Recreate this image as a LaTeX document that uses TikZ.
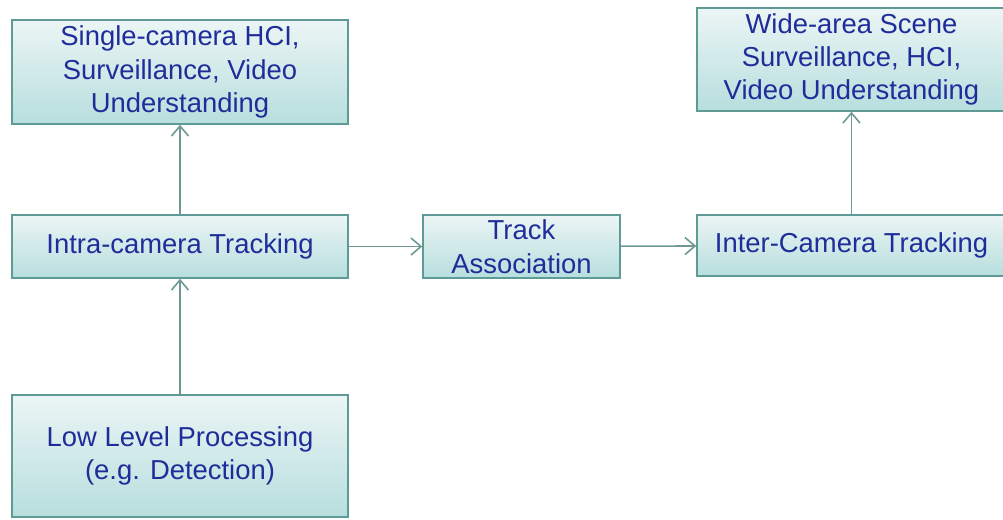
\documentclass[tikz,border=0pt]{standalone}
\usepackage{fontspec}
\setmainfont{Liberation Sans}
\usetikzlibrary{arrows.meta}
\definecolor{boxline}{RGB}{94,154,150}
\definecolor{boxtop}{RGB}{236,245,245}
\definecolor{boxbot}{RGB}{183,222,222}
\definecolor{boxtext}{RGB}{31,45,154}
\definecolor{flowline}{RGB}{110,152,147}
\tikzset{
    stage/.style={draw=boxline, line width=0.9pt, top color=boxtop, bottom color=boxbot,
        text=boxtext, align=center, font=\fontsize{15.6}{19}\selectfont, inner sep=0pt},
    flow/.style={draw=flowline, line width=0.9pt, -{Straight Barb[length=2mm, width=3.4mm]}}
}
\begin{document}
\begin{tikzpicture}
    \useasboundingbox (0,0) rectangle (20.06,-10.38);

    % Single camera side - left column
    \node[stage, minimum width=6.72cm, minimum height=2.08cm] (single) at (3.6,-1.44) {Single-camera HCI,\\Surveillance, Video\\Understanding};
    \node[stage, minimum width=6.72cm, minimum height=1.26cm] (intra) at (3.6,-4.93) {Intra-camera Tracking};
    \node[stage, minimum width=6.72cm, minimum height=2.44cm] (lowlevel) at (3.6,-9.12) {Low Level Processing\\(e.g. Detection)};

    % Association - middle
    \node[stage, minimum width=3.94cm, minimum height=1.26cm] (assoc) at (10.43,-4.93) {Track\\Association};

    % Multi camera side - right column
    \node[stage, minimum width=6.18cm, minimum height=1.22cm] (inter) at (17.03,-4.91) {Inter-Camera Tracking};
    \node[stage, minimum width=6.18cm, minimum height=2.06cm] (widearea) at (17.03,-1.19) {Wide-area Scene\\Surveillance, HCI,\\Video Understanding};

    % Connections
    \draw[flow] (lowlevel) -- (intra);
    \draw[flow] (intra) -- (single);
    \draw[flow] (intra) -- (assoc);
    \draw[flow] (assoc) -- (inter);
    \draw[flow] (inter) -- (widearea);
\end{tikzpicture}
\end{document}
